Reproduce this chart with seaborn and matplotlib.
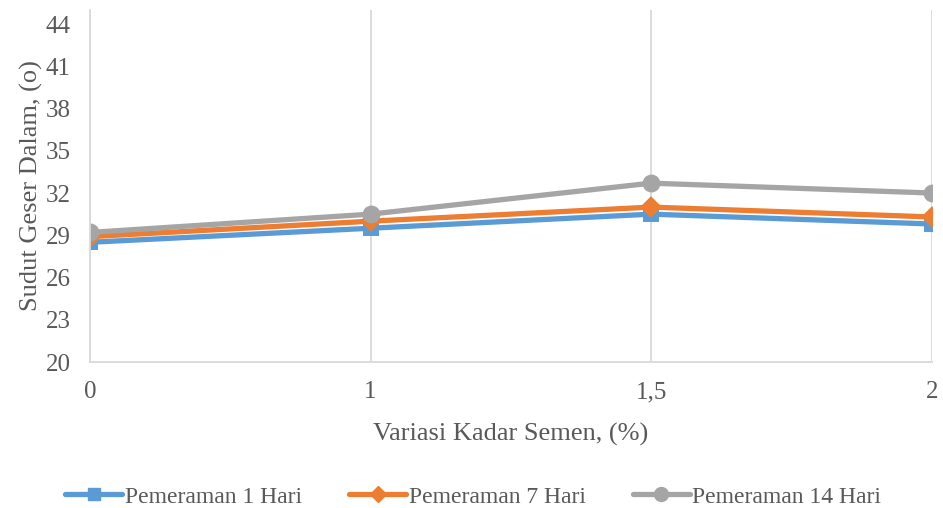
import matplotlib
matplotlib.use("Agg")
import matplotlib.pyplot as plt
import seaborn as sns
import pandas as pd
from matplotlib.lines import Line2D

# Cement content variations (x categories)
kadar_semen = ["0", "1", "1,5", "2"]

# Internal friction angle for each curing period
pemeraman_1 = [28.5, 29.5, 30.5, 29.8]
pemeraman_7 = [28.9, 30.0, 31.0, 30.3]
pemeraman_14 = [29.2, 30.5, 32.7, 32.0]

series_names = ["Pemeraman 1 Hari", "Pemeraman 7 Hari", "Pemeraman 14 Hari"]
y_ticks = [20, 23, 26, 29, 32, 35, 38, 41, 44]

colors = ["#5B9BD5", "#ED7D31", "#A5A5A5"]
markers = ["s", "D", "o"]
marker_sizes = [8.5, 8, 10]

rows = []
for name, vals in zip(series_names, [pemeraman_1, pemeraman_7, pemeraman_14]):
    for k, v in zip(kadar_semen, vals):
        rows.append({"kadar": k, "sudut": v, "seri": name})
df = pd.DataFrame(rows)

sns.set_theme(style="white")
plt.rcParams["font.family"] = ["Liberation Serif", "DejaVu Serif"]
text_color = "#595959"
grid_color = "#D9D9D9"

fig = plt.figure(figsize=(9.43, 5.08), dpi=100)
ax = fig.add_axes([0.0954, 0.2874, 0.8926, 0.693])

for name, col, mk, ms in zip(series_names, colors, markers, marker_sizes):
    sub = df[df["seri"] == name]
    sns.pointplot(data=sub, x="kadar", y="sudut", order=kadar_semen,
                  color=col, markers=mk, ax=ax, errorbar=None,
                  linewidth=3.8, markersize=ms)

ax.set_xlim(0, len(kadar_semen) - 1)
ax.set_ylim(20, 45)
ax.set_yticks(y_ticks)
ax.set_yticklabels([str(t) for t in y_ticks])

ax.grid(axis="x", color=grid_color, linewidth=1.3)
ax.grid(axis="y", visible=False)
ax.set_axisbelow(True)
for s in ["top", "right"]:
    ax.spines[s].set_visible(False)
for s in ["left", "bottom"]:
    ax.spines[s].set_color(grid_color)
    ax.spines[s].set_linewidth(1.3)

ax.tick_params(axis="both", length=0, labelsize=18, colors=text_color)
ax.tick_params(axis="x", pad=14)
ax.tick_params(axis="y", pad=14)

ax.set_xlabel("Variasi Kadar Semen, (%)", fontsize=19, color=text_color, labelpad=14)
ax.set_ylabel("Sudut Geser Dalam, (o)", fontsize=19, color=text_color, labelpad=2)

handles = [Line2D([0], [0], color=c, marker=m, markersize=ms, linewidth=3.8)
           for c, m, ms in zip(colors, markers, marker_sizes)]
leg = fig.legend(handles, series_names, loc="center", ncol=3,
                 bbox_to_anchor=(0.502, 0.022), frameon=False, fontsize=17,
                 handlelength=2.4, handletextpad=0.12, columnspacing=2.0)
for t in leg.get_texts():
    t.set_color(text_color)

fig.savefig("out.png", dpi=100)
